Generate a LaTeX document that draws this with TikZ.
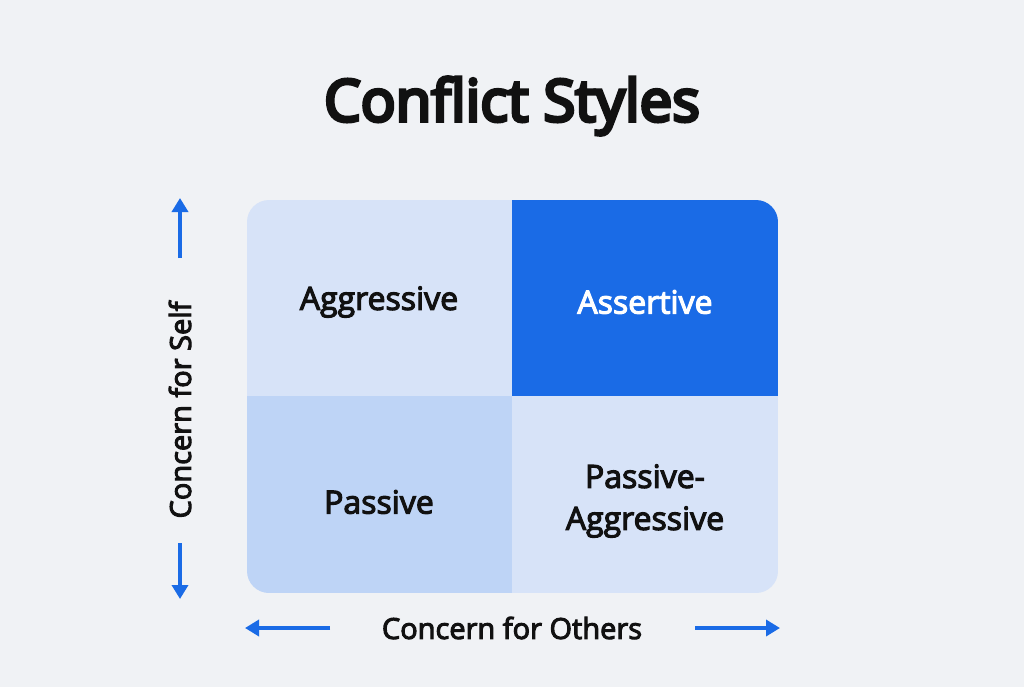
\documentclass[tikz,border=0pt]{standalone}
\usepackage{fontspec}
\setmainfont{Open Sans}
\newfontfamily\medfont[FakeBold=3.5]{Open Sans}
\newfontfamily\titfont[FakeBold=6]{Open Sans}
\usetikzlibrary{arrows.meta}
\definecolor{bg}{HTML}{F0F2F5}
\definecolor{light}{HTML}{D7E3F8}
\definecolor{mid}{HTML}{BED4F6}
\definecolor{blue}{HTML}{1A6BE6}
\definecolor{ink}{HTML}{111111}
\begin{document}
\begin{tikzpicture}[x=1pt,y=-1pt,
  lab/.style={font=\medfont\fontsize{32}{42}\selectfont,text=ink,align=center},
  ax/.style={font=\medfont\fontsize{29}{32}\selectfont,text=ink},
  arr/.style={draw=blue,line width=3.5pt,-{Triangle[length=14pt,width=16pt]}}]
\useasboundingbox[fill=bg] (0,0) rectangle (1024,687);
\node[font=\titfont\fontsize{58}{64}\selectfont,text=ink] (title) at (512,106) {Conflict Styles};
\begin{scope}
\clip[rounded corners=22pt] (247,200) rectangle (778,593);
\fill[light] (247,200) rectangle (512,396);
\fill[blue] (512,200) rectangle (778,396);
\fill[mid] (247,396) rectangle (512,593);
\fill[light] (512,396) rectangle (778,593);
\end{scope}
\node[lab] (ag) at (379,302) {Aggressive};
\node[lab,text=white] (as) at (645,302) {Assertive};
\node[lab] (pa) at (379,502) {Passive};
\node[lab] (pag) at (645,501) {Passive-\\Aggressive};
\node[ax,rotate=90] (self) at (180,410) {Concern for Self};
\coordinate (s1) at (180,258); \coordinate (s1t) at (180,198);
\coordinate (s2) at (180,543); \coordinate (s2t) at (180,599);
\draw[arr] (s1) -- (s1t);
\draw[arr] (s2) -- (s2t);
\node[ax] (oth) at (512,628) {Concern for Others};
\coordinate (o1) at (330,628); \coordinate (o1t) at (245,628);
\coordinate (o2) at (695,628); \coordinate (o2t) at (780,628);
\draw[arr] (o1) -- (o1t);
\draw[arr] (o2) -- (o2t);
\end{tikzpicture}
\end{document}
